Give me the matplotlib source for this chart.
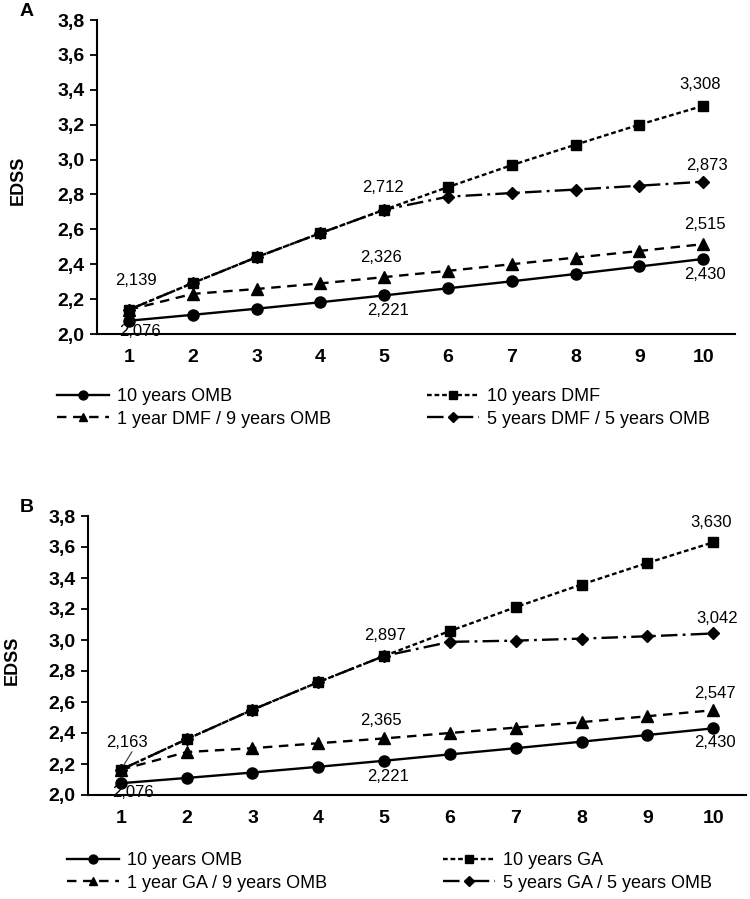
import matplotlib
matplotlib.use("Agg")
import matplotlib.pyplot as plt

# ==============================
# DATA
# ==============================

years = [1, 2, 3, 4, 5, 6, 7, 8, 9, 10]

omb = [2.076, 2.110, 2.145, 2.182, 2.221, 2.262, 2.302, 2.344, 2.387, 2.430]

dmf = [2.139, 2.292, 2.440, 2.578, 2.712, 2.842, 2.968, 3.085, 3.200, 3.308]
dmf1_omb9 = [2.139, 2.230, 2.258, 2.290, 2.326, 2.362, 2.400, 2.438, 2.476, 2.515]
dmf5_omb5 = [2.139, 2.292, 2.440, 2.578, 2.712, 2.787, 2.808, 2.828, 2.850, 2.873]

ga = [2.163, 2.360, 2.550, 2.728, 2.897, 3.058, 3.212, 3.358, 3.497, 3.630]
ga1_omb9 = [2.163, 2.277, 2.302, 2.334, 2.365, 2.400, 2.435, 2.470, 2.508, 2.547]
ga5_omb5 = [2.163, 2.360, 2.550, 2.728, 2.897, 2.988, 2.996, 3.009, 3.024, 3.042]

labels_a = ["10 years OMB", "10 years DMF",
            "1 year DMF / 9 years OMB", "5 years DMF / 5 years OMB"]
labels_b = ["10 years OMB", "10 years GA",
            "1 year GA / 9 years OMB", "5 years GA / 5 years OMB"]

yticks = [2.0, 2.2, 2.4, 2.6, 2.8, 3.0, 3.2, 3.4, 3.6, 3.8]

# ==============================
# STYLE
# ==============================

plt.rcParams['font.family'] = ['Liberation Sans', 'DejaVu Sans']
W, H = 750, 899
LW = 1.7

styles = [
    dict(ls='-', marker='o', ms=8),                         # OMB
    dict(ls=(0, (2.0, 1.2)), marker='s', ms=7.5),           # full treatment
    dict(ls=(0, (4.0, 2.8)), marker='^', ms=8),             # 1 year
    dict(ls=(0, (7, 2.2, 1.2, 2.2)), marker='D', ms=6),     # 5 years
]


def fmt(v):
    return f"{v:.3f}".replace('.', ',')


def px_axes(fig, left, top, right, bottom):
    return fig.add_axes([left / W, 1 - bottom / H, (right - left) / W, (bottom - top) / H])


def draw_panel(ax, series, labels, notes, leader=False):
    lines = []
    for vals, st, lab in zip(series, styles, labels):
        ln, = ax.plot(years, vals, color='black', lw=LW, label=lab,
                      markerfacecolor='black', markeredgecolor='black', **st)
        lines.append(ln)

    for (si, idx, dx, dy) in notes:
        v = series[si][idx]
        ax.annotate(fmt(v), (years[idx], v), xytext=(dx, dy), textcoords='offset points',
                    ha='center', va='center', fontsize=12, color='black')

    if leader:
        v = series[1][0]
        ax.annotate('', (years[0], v), xytext=(8, 13), textcoords='offset points',
                    arrowprops=dict(arrowstyle='-', color='#333333', lw=0.8,
                                    shrinkA=0, shrinkB=4))

    ax.set_xlim(0.5, 10.5)
    ax.set_ylim(2.0, 3.8)
    ax.set_xticks(years)
    ax.set_xticklabels([str(y) for y in years], fontsize=14, fontweight='bold')
    ax.set_yticks(yticks)
    ax.set_yticklabels([f"{t:.1f}".replace('.', ',') for t in yticks],
                       fontsize=14, fontweight='bold')
    ax.tick_params(axis='x', length=0, pad=11)
    ax.tick_params(axis='y', length=5, width=1.3, direction='out', pad=4)
    for s in ['top', 'right']:
        ax.spines[s].set_visible(False)
    for s in ['left', 'bottom']:
        ax.spines[s].set_linewidth(1.5)
    ax.patch.set_alpha(0)
    return lines


def add_legend(fig, handles, x_px, y_px):
    fig.legend(handles=handles, loc='center left', bbox_to_anchor=(x_px / W, 1 - y_px / H),
               frameon=False, fontsize=13, handlelength=2.9, handletextpad=0.4,
               labelspacing=0.28, borderpad=0, borderaxespad=0, numpoints=1,
               markerscale=0.8)


fig = plt.figure(figsize=(W / 100, H / 100), dpi=100)

# ==============================
# PANEL A
# ==============================

ax_a = px_axes(fig, 97, 20, 735, 334)
notes_a = [
    (0, 0, 8, -8), (0, 4, 3, -11), (0, 9, 1, -11),
    (1, 0, 5, 21), (1, 9, -2, 15),
    (3, 4, -1, 16), (3, 9, 3, 12),
    (2, 4, -2, 14), (2, 9, 1, 14),
]
lines_a = draw_panel(ax_a, [omb, dmf, dmf1_omb9, dmf5_omb5], labels_a, notes_a)
add_legend(fig, [lines_a[0], lines_a[2]], 57, 408)
add_legend(fig, [lines_a[1], lines_a[3]], 427, 408)

fig.text(18 / W, 1 - 180 / H, "EDSS", rotation=90, ha='center', va='center',
         fontsize=13, fontweight='bold')
fig.text(27 / W, 1 - 12 / H, "A", ha='center', va='center', fontsize=14, fontweight='heavy')

# ==============================
# PANEL B
# ==============================

ax_b = px_axes(fig, 88, 516, 746, 795)
notes_b = [
    (0, 0, 9, -7), (0, 4, 3, -11), (0, 9, 1, -10),
    (1, 0, 4, 19.5), (1, 9, -1.5, 14),
    (3, 4, 1, 15), (3, 9, 3, 11),
    (2, 4, -2.5, 13), (2, 9, 1.5, 12),
]
lines_b = draw_panel(ax_b, [omb, ga, ga1_omb9, ga5_omb5], labels_b, notes_b, leader=True)
add_legend(fig, [lines_b[0], lines_b[2]], 67, 872)
add_legend(fig, [lines_b[1], lines_b[3]], 443, 872)

fig.text(12 / W, 1 - 660 / H, "EDSS", rotation=90, ha='center', va='center',
         fontsize=13, fontweight='bold')
fig.text(27 / W, 1 - 508 / H, "B", ha='center', va='center', fontsize=14, fontweight='heavy')

fig.savefig("out.png", dpi=100)
plt.close(fig)
